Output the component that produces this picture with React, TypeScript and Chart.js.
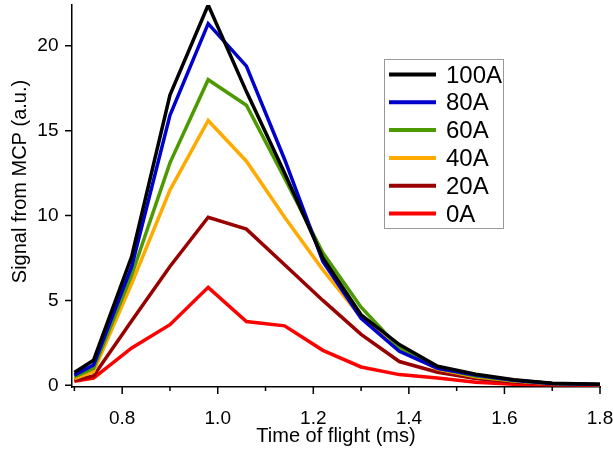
import React, { useEffect, useRef } from "react";
import { Chart, registerables } from "chart.js";

Chart.register(...registerables);

const TIME_MS = [0.70, 0.74, 0.82, 0.90, 0.98, 1.06, 1.14, 1.22, 1.30, 1.38, 1.46, 1.54, 1.62, 1.70, 1.80];

const SERIES_LABELS = ["100A", "80A", "60A", "40A", "20A", "0A"];
const SIG_100A = [0.75, 1.47, 7.6, 17.1, 22.4, 17.3, 12.5, 7.5, 4.15, 2.4, 1.12, 0.65, 0.33, 0.12, 0.06];
const SIG_80A = [0.6, 1.2, 7.0, 15.9, 21.3, 18.8, 13.3, 7.3, 3.95, 2.0, 1.0, 0.6, 0.3, 0.1, 0.05];
const SIG_60A = [0.5, 1.0, 6.5, 13.1, 18.0, 16.5, 12.2, 7.8, 4.6, 2.2, 1.0, 0.55, 0.28, 0.1, 0.05];
const SIG_40A = [0.4, 0.8, 6.0, 11.5, 15.6, 13.2, 9.9, 6.8, 4.0, 2.1, 0.95, 0.5, 0.25, 0.1, 0.04];
const SIG_20A = [0.3, 0.55, 3.8, 7.0, 9.9, 9.2, 7.1, 5.0, 3.0, 1.4, 0.77, 0.4, 0.2, 0.08, 0.03];
const SIG_0A = [0.24, 0.43, 2.2, 3.57, 5.77, 3.76, 3.5, 2.06, 1.08, 0.63, 0.43, 0.18, 0.06, 0.03, 0.01];
const SERIES_VALUES = [SIG_100A, SIG_80A, SIG_60A, SIG_40A, SIG_20A, SIG_0A];
const SERIES_COLORS = ["#000000", "#0000CC", "#4C9900", "#FFAA00", "#990000", "#FF0000"];

const X_MAJOR_TICKS = [0.8, 1.0, 1.2, 1.4, 1.6, 1.8];
const X_MINOR_TICKS = [0.7, 0.9, 1.1, 1.3, 1.5, 1.7];
const Y_TICKS = [0, 5, 10, 15, 20];
const Y_TITLE = "Signal from MCP (a.u.)";
const X_TITLE = "Time of flight (ms)";

const FONT = "'Liberation Sans', Arial, sans-serif";

const decorPlugin = {
  id: "decor",
  afterDraw(chart: any) {
    const { ctx, chartArea, scales } = chart;
    const x = scales.x;
    const y = scales.y;
    ctx.save();
    ctx.strokeStyle = "#000";
    ctx.lineWidth = 1.5;
    ctx.beginPath();
    X_MAJOR_TICKS.forEach((v) => {
      const px = x.getPixelForValue(v);
      ctx.moveTo(px, chartArea.bottom);
      ctx.lineTo(px, chartArea.bottom + 7);
    });
    X_MINOR_TICKS.forEach((v) => {
      const px = x.getPixelForValue(v);
      ctx.moveTo(px, chartArea.bottom);
      ctx.lineTo(px, chartArea.bottom + 4);
    });
    Y_TICKS.forEach((v) => {
      const py = y.getPixelForValue(v);
      ctx.moveTo(chartArea.left, py);
      ctx.lineTo(chartArea.left - 7, py);
    });
    ctx.stroke();

    // y-axis title
    ctx.save();
    ctx.translate(20.5, 181.5);
    ctx.rotate(-Math.PI / 2);
    ctx.font = `20px ${FONT}`;
    ctx.fillStyle = "#000";
    ctx.textAlign = "center";
    ctx.textBaseline = "middle";
    ctx.fillText(Y_TITLE, 0, 0);
    ctx.restore();

    // legend
    const bx = 384.5, by = 59.5, bw = 119, bh = 169;
    ctx.fillStyle = "#fff";
    ctx.fillRect(bx, by, bw, bh);
    ctx.strokeStyle = "#999";
    ctx.lineWidth = 1;
    ctx.strokeRect(bx, by, bw, bh);
    ctx.font = `24px ${FONT}`;
    ctx.textBaseline = "middle";
    ctx.textAlign = "left";
    chart.data.datasets.forEach((ds: any, i: number) => {
      const cy = 74.5 + i * 27.8;
      ctx.strokeStyle = ds.borderColor;
      ctx.lineWidth = 4;
      ctx.beginPath();
      ctx.moveTo(389, cy);
      ctx.lineTo(436, cy);
      ctx.stroke();
      ctx.fillStyle = "#000";
      ctx.fillText(ds.label, 446, cy + 1.5);
    });
    ctx.restore();
  },
};

const zeroPad = (s: any) => {
  s.paddingTop = 0;
  s.paddingBottom = 0;
  s.paddingLeft = 0;
  s.paddingRight = 0;
};

export default function App() {
  const ref = useRef<HTMLCanvasElement>(null);
  useEffect(() => {
    document.body.style.margin = "0";
    const canvas = ref.current!;
    const chart = new Chart(canvas, {
      type: "line",
      data: {
        datasets: SERIES_LABELS.map((label, i) => ({
          label,
          data: TIME_MS.map((t, j) => ({ x: t, y: SERIES_VALUES[i][j] })),
          borderColor: SERIES_COLORS[i],
          backgroundColor: SERIES_COLORS[i],
          borderWidth: 3.5,
          pointRadius: 0,
          tension: 0,
          fill: false,
        })),
      },
      options: {
        animation: false,
        responsive: false,
        devicePixelRatio: 1,
        layout: { padding: { top: 5, right: 13, left: 0, bottom: 0 } },
        plugins: { legend: { display: false }, tooltip: { enabled: false } },
        scales: {
          x: {
            type: "linear",
            min: 0.695,
            max: 1.8,
            afterBuildTicks: (s: any) => {
              s.ticks = X_MAJOR_TICKS.map((v) => ({ value: v }));
            },
            afterFit: (s: any) => {
              s.height = 66;
              zeroPad(s);
            },
            grid: { display: false, drawTicks: false },
            border: { display: true, color: "#000", width: 1.5 },
            ticks: {
              autoSkip: false,
              maxRotation: 0,
              padding: 20,
              color: "#000",
              font: { size: 19, family: FONT },
              callback: (v: any) => Number(v).toFixed(1),
            },
            title: {
              display: true,
              text: X_TITLE,
              color: "#000",
              font: { size: 20, family: FONT },
              padding: { top: 0, bottom: 5 },
            },
          },
          y: {
            type: "linear",
            min: -0.1,
            max: 22.4,
            afterBuildTicks: (s: any) => {
              s.ticks = Y_TICKS.map((v) => ({ value: v }));
            },
            afterFit: (s: any) => {
              s.width = 72;
              zeroPad(s);
            },
            grid: { display: false, drawTicks: false },
            border: { display: true, color: "#000", width: 1.5 },
            ticks: {
              padding: 13.5,
              color: "#000",
              font: { size: 19, family: FONT },
              callback: (v: any) => String(v),
            },
            title: { display: false },
          },
        },
      },
      plugins: [decorPlugin],
    });
    return () => chart.destroy();
  }, []);
  return (
    <div style={{ width: 613, height: 453 }}>
      <canvas ref={ref} width={613} height={453} />
    </div>
  );
}
